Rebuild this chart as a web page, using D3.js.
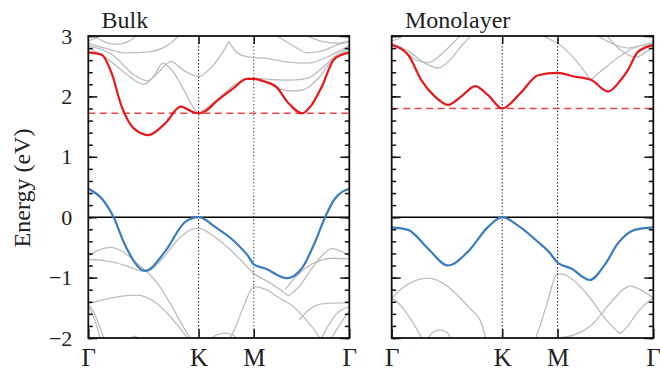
<!DOCTYPE html>
<html><head><meta charset="utf-8">
<script src="https://cdn.jsdelivr.net/npm/d3@7"></script>
</head><body style="margin:0">
<svg id="c" width="660" height="373" style="display:block"></svg>
<script>
// ---------- data ----------
const kPoints = [0, 1.333, 2.0, 3.155];
const kLabels = ["Γ", "K", "M", "Γ"];
const yTicks = [-2, -1, 0, 1, 2, 3];
const panelTitles = ["Bulk", "Monolayer"];
const cbmLevels = [1.72, 1.80];

const bulkCB = [[0,2.73],[0.162,2.69],[0.283,2.38],[0.404,1.83],[0.55,1.47],[0.726,1.36],[0.927,1.55],[1.117,1.83],[1.25,1.75],[1.333,1.72],[1.42,1.76],[1.55,1.92],[1.75,2.13],[1.915,2.29],[2.0,2.29],[2.12,2.25],[2.278,2.15],[2.418,1.89],[2.588,1.72],[2.7,1.86],[2.822,2.16],[2.963,2.60],[3.064,2.69],[3.155,2.72]];
const bulkVB = [[0,0.47],[0.162,0.31],[0.302,0.01],[0.444,-0.46],[0.686,-0.89],[0.927,-0.57],[1.169,-0.08],[1.333,0],[1.532,-0.16],[1.774,-0.41],[1.935,-0.65],[2.0,-0.78],[2.14,-0.85],[2.40,-1.01],[2.58,-0.85],[2.741,-0.41],[2.862,0.0],[2.983,0.31],[3.155,0.47]];

const monoCB = [[0,2.85],[0.197,2.69],[0.357,2.27],[0.519,2.0],[0.679,1.86],[0.84,2.0],[1.008,2.17],[1.162,2.02],[1.333,1.80],[1.55,2.05],[1.765,2.35],[2.0,2.39],[2.2,2.33],[2.408,2.27],[2.609,2.08],[2.75,2.25],[2.85,2.44],[2.971,2.74],[3.155,2.85]];
const monoVB = [[0,-0.17],[0.197,-0.21],[0.438,-0.52],[0.679,-0.80],[0.92,-0.57],[1.162,-0.16],[1.333,0],[1.524,-0.14],[1.765,-0.41],[1.9,-0.58],[2.0,-0.75],[2.166,-0.85],[2.388,-1.04],[2.569,-0.79],[2.73,-0.43],[2.931,-0.21],[3.155,-0.17]];

const bulkGray = [
  [[0,2.80],[0.2,2.65],[0.45,2.38],[0.67,2.2],[0.8,2.35],[0.9,2.55],[1.0,2.45],[1.15,2.12],[1.28,1.8],[1.333,1.73],[1.42,1.8],[1.6,2.0],[1.8,2.22],[1.92,2.3],[2.0,2.3],[2.2,2.28],[2.45,2.27],[2.65,2.3],[2.85,2.5],[3.0,2.68],[3.155,2.80]],
  [[0,2.84],[0.3,2.68],[0.55,2.36],[0.72,2.26],[0.85,2.4],[1.0,2.58],[1.15,2.43],[1.333,2.33],[1.5,2.5],[1.62,2.72],[1.7,2.91]],
  [[1.7,2.91],[1.8,2.72],[1.95,2.65],[2.15,2.63],[2.4,2.57],[2.65,2.55],[2.9,2.66],[3.155,2.84]],
  [[0,2.88],[0.2,2.8],[0.45,2.72],[0.75,2.74],[0.95,2.84],[1.12,3.03]],
  [[0,2.92],[0.12,2.98],[0.2,3.03]],
  [[0.05,3.03],[0.2,2.9],[0.35,2.86],[0.5,2.92],[0.6,3.03]],
  [[2.0,2.31],[2.15,2.24],[2.3,2.13],[2.45,2.09],[2.6,2.11],[2.78,2.3],[2.95,2.6],[3.155,2.76]],
  [[2.25,3.03],[2.45,2.86],[2.65,2.72],[2.85,2.76],[3.0,2.85],[3.155,2.9]],
  [[2.6,3.03],[2.8,2.92],[3.0,2.88],[3.155,2.92]],
  [[0,-0.64],[0.12,-0.55],[0.27,-0.50],[0.45,-0.6],[0.6,-0.78],[0.72,-0.92],[0.85,-1.12],[1.0,-1.45],[1.12,-1.75],[1.25,-2.05]],
  [[0,-0.70],[0.2,-0.72],[0.45,-0.8],[0.65,-0.89],[0.72,-0.89],[0.9,-0.68],[1.1,-0.35],[1.25,-0.2],[1.333,-0.18],[1.5,-0.3],[1.7,-0.52],[1.85,-0.72],[2.0,-0.93],[2.15,-1.05],[2.3,-1.18],[2.42,-1.3]],
  [[2.42,-1.3],[2.55,-1.15],[2.7,-0.85],[2.85,-0.6],[2.95,-0.52],[3.05,-0.56],[3.155,-0.64]],
  [[0,-1.43],[0.3,-1.33],[0.6,-1.29],[0.8,-1.4],[1.0,-1.66],[1.17,-1.95],[1.22,-2.05]],
  [[0,-1.45],[0.06,-1.55],[0.12,-1.75],[0.2,-2.05]],
  [[0,-1.48],[0.05,-1.6],[0.1,-1.8],[0.15,-2.05]],
  [[0.5,-2.05],[0.56,-1.97],[0.62,-2.05]],
  [[1.45,-2.05],[1.55,-1.95],[1.65,-1.92],[1.75,-1.95],[1.82,-2.05]],
  [[1.7,-2.05],[1.8,-1.75],[1.9,-1.4],[2.0,-1.15],[2.15,-1.2],[2.3,-1.33],[2.45,-1.45],[2.6,-1.65],[2.75,-1.9],[2.82,-2.05]],
  [[2.38,-1.2],[2.5,-1.0],[2.65,-0.82],[2.8,-0.72],[2.95,-0.68],[3.155,-0.69]],
  [[2.55,-1.7],[2.7,-1.5],[2.85,-1.43],[3.155,-1.42]],
  [[2.8,-2.05],[2.9,-1.8],[3.0,-1.6],[3.155,-1.48]],
  [[2.92,-2.05],[3.03,-1.8],[3.155,-1.55]]
];

const monoGray = [
  [[0,2.86],[0.15,2.75],[0.3,2.6],[0.44,2.56],[0.6,2.7],[0.75,2.9],[0.85,3.03]],
  [[0,2.88],[0.2,2.75],[0.4,2.55],[0.56,2.47],[0.7,2.6],[0.85,2.85],[0.98,3.03]],
  [[0,2.92],[0.1,2.97],[0.15,3.03]],
  [[1.78,3.03],[1.9,2.95],[2.0,2.88],[2.2,2.63],[2.4,2.27]],
  [[2.4,2.27],[2.55,2.45],[2.78,2.69],[2.95,2.82],[3.155,2.86]],
  [[2.58,3.03],[2.75,2.78],[2.95,2.65],[3.05,2.72],[3.155,2.82]],
  [[2.45,3.03],[2.65,2.88],[2.85,2.8],[3.0,2.84],[3.155,2.9]],
  [[0,-1.34],[0.15,-1.15],[0.3,-1.04],[0.44,-1.01],[0.6,-1.08],[0.8,-1.3],[0.95,-1.52],[1.065,-1.70],[1.14,-2.03]],
  [[0,-1.34],[0.08,-1.42],[0.18,-1.59],[0.28,-1.8],[0.37,-2.03]],
  [[0.43,-2.03],[0.5,-1.9],[0.58,-1.87],[0.66,-1.9],[0.72,-2.03]],
  [[1.73,-2.03],[1.8,-1.75],[1.9,-1.3],[1.96,-1.02],[2.0,-0.93],[2.05,-0.94],[2.19,-1.04],[2.4,-1.35],[2.6,-1.72],[2.754,-1.93]],
  [[2.754,-1.93],[2.85,-1.8],[2.95,-1.6],[3.05,-1.45],[3.155,-1.34]],
  [[1.95,-2.01],[2.0,-2.0],[2.2,-1.95],[2.43,-1.76],[2.65,-1.4],[2.875,-1.14],[3.0,-1.2],[3.155,-1.34]]
];

const panelsData = [
  {cb: bulkCB, vb: bulkVB, gray: bulkGray},
  {cb: monoCB, vb: monoVB, gray: monoGray}
];

// ---------- layout ----------
const svg = d3.select("#c");
const plotTop = 36, plotBottom = 338;
const panelX = [[88.3, 349.3], [391.7, 653.3]];
const y = d3.scaleLinear().domain([-2, 3]).range([plotBottom, plotTop]);
const minorTicks = d3.range(-2, 3.001, 0.2).map(v => +v.toFixed(1));

function label(sel, size) {
  sel.attr("font-family", null)
     .style("font-family", '"Liberation Serif"', "important")
     .style("font-size", size + "px", "important")
     .style("fill", "#222");
}

panelsData.forEach((pd, i) => {
  const [x0, x1] = panelX[i];
  const x = d3.scaleLinear().domain([0, 3.155]).range([x0, x1]);
  const g = svg.append("g");
  const clipId = "clip" + i;
  svg.append("clipPath").attr("id", clipId).append("rect")
    .attr("x", x0).attr("y", plotTop).attr("width", x1 - x0).attr("height", plotBottom - plotTop);
  const plot = g.append("g").attr("clip-path", `url(#${clipId})`);
  const line = d3.line().x(d => x(d[0])).y(d => y(d[1])).curve(d3.curveMonotoneX);

  plot.selectAll("path.gray").data(pd.gray).join("path").attr("class","gray")
    .attr("d", line).attr("fill","none").attr("stroke","#bdbdbd").attr("stroke-width",1.3);

  plot.selectAll("line.vl").data(kPoints.slice(1,3)).join("line").attr("class","vl")
    .attr("x1", d => x(d)).attr("x2", d => x(d)).attr("y1", plotTop).attr("y2", plotBottom)
    .attr("stroke", (d,j) => (i === 0 && j === 1) ? "#666" : "#111")
    .attr("stroke-width", (d,j) => (i === 0 && j === 1) ? 1.4 : 1.1)
    .attr("stroke-dasharray", "1.2,2.2");

  plot.append("line").attr("x1", x0).attr("x2", x1).attr("y1", y(0)).attr("y2", y(0))
    .attr("stroke", "#000").attr("stroke-width", 1.4);

  plot.append("line").attr("x1", x0).attr("x2", x1).attr("y1", y(cbmLevels[i])).attr("y2", y(cbmLevels[i]))
    .attr("stroke", "#e8474a").attr("stroke-width", 1.4).attr("stroke-dasharray", "7,4.5");

  plot.append("path").datum(pd.vb).attr("d", line).attr("fill","none")
    .attr("stroke", "#3a7dbb").attr("stroke-width", 2.2);
  plot.append("path").datum(pd.cb).attr("d", line).attr("fill","none")
    .attr("stroke", "#e3191c").attr("stroke-width", 2.2);

  const ya = g.append("g").attr("transform", `translate(${x0},0)`)
    .call(d3.axisLeft(y).tickValues(yTicks).tickSize(-9).tickPadding(16)
      .tickFormat(i === 0 ? d3.format("d") : () => ""));
  label(ya.selectAll("text"), 22);
  g.append("g").attr("transform", `translate(${x0},0)`)
    .call(d3.axisLeft(y).tickValues(minorTicks).tickSize(-4.5).tickFormat(""));
  g.append("g").attr("transform", `translate(${x1},0)`)
    .call(d3.axisRight(y).tickValues(yTicks).tickSize(-9).tickFormat(""));
  g.append("g").attr("transform", `translate(${x1},0)`)
    .call(d3.axisRight(y).tickValues(minorTicks).tickSize(-4.5).tickFormat(""));
  const xa = g.append("g").attr("transform", `translate(0,${plotBottom})`)
    .call(d3.axisBottom(x).tickValues(kPoints).tickSize(-9).tickPadding(10)
      .tickFormat((d, j) => kLabels[j]));
  label(xa.selectAll("text"), 25);
  g.append("g").attr("transform", `translate(0,${plotTop})`)
    .call(d3.axisTop(x).tickValues(kPoints.slice(1,3)).tickSize(-8).tickFormat(""));

  g.selectAll(".domain").remove();
  g.selectAll("g").attr("font-family", null);
  g.selectAll(".tick line").attr("stroke", "#111").attr("stroke-width", 1.5);

  g.append("rect").attr("x", x0).attr("y", plotTop).attr("width", x1 - x0).attr("height", plotBottom - plotTop)
    .attr("fill", "none").attr("stroke", "#111").attr("stroke-width", 1.8);

  label(g.append("text").attr("x", i === 0 ? 101.5 : 405).attr("y", 28).text(panelTitles[i]), 24);
});

label(svg.append("text").attr("transform", "translate(30,188) rotate(-90)")
  .attr("text-anchor", "middle").text("Energy (eV)"), 24);
</script>
</body></html>
